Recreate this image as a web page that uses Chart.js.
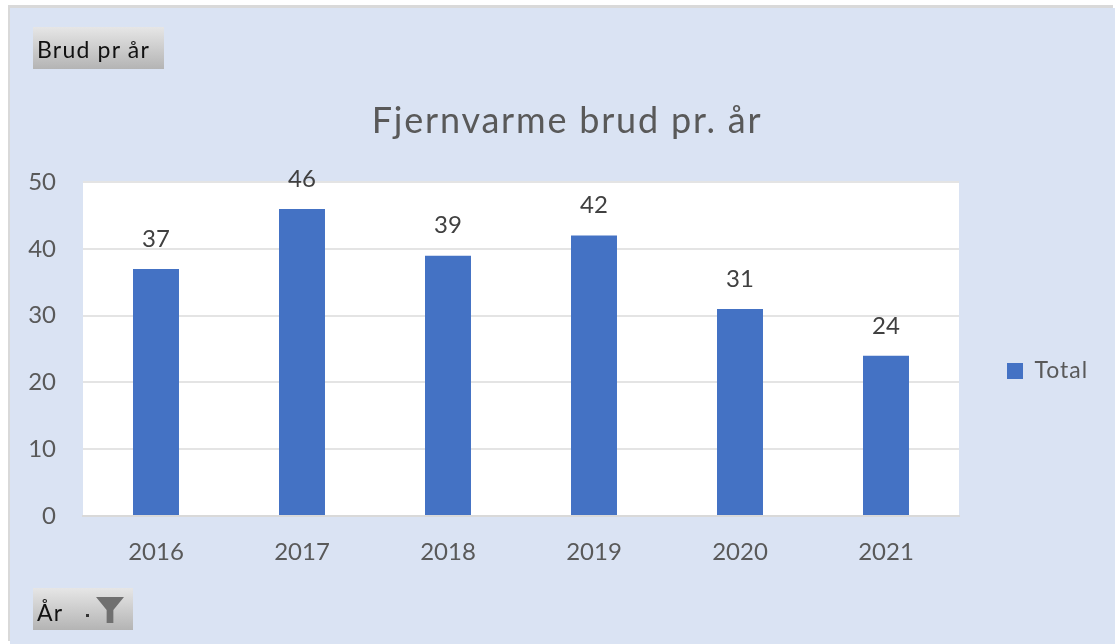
<!DOCTYPE html>
<html><head><meta charset="utf-8">
<style>
html,body{margin:0;padding:0;background:#fff;width:1115px;height:644px;overflow:hidden}
#panel{position:absolute;left:10px;top:8px;width:1105px;height:636px;background:#dae3f3;box-shadow:-2px -3px 0 #d9d9d9}
#c{position:absolute;left:0;top:0;filter:blur(.55px)}
.btn{position:absolute;left:23px;background:linear-gradient(#e6e6e6,#b4b4b4);color:#111;font:23px Lato,sans-serif;letter-spacing:1.2px;filter:blur(.4px);box-sizing:border-box;padding-left:4px}
#b1{top:19px;width:131px;height:42px;line-height:44px}
#b2{top:580px;width:100px;height:42px;line-height:48px}
#f{position:absolute;left:63px;top:9px;width:28px;height:26px;background:#707070;clip-path:polygon(0 0,100% 0,62% 50%,62% 100%,38% 100%,38% 50%)}
#d{position:absolute;left:53px;top:26px;width:3px;height:3px;background:#333}
</style></head><body>
<div id="panel">
<canvas id="c" width="1105" height="636"></canvas>
<div class="btn" id="b1">Brud pr år</div>
<div class="btn" id="b2">År<span id="d"></span><span id="f"></span></div>
</div>
<script src="https://cdn.jsdelivr.net/npm/chart.js@4"></script>
<script>
const categories = ["2016","2017","2018","2019","2020","2021"];
const totals = [37,46,39,42,31,24];
const seriesName = "Total";
const chartTitle = "Fjernvarme brud pr. år";

const fontFamily = "Lato, sans-serif";
const grey = "#595959";

function wrapDraw(box, spacing, dx, dy){
  const orig = box.draw;
  box.draw = function(){
    const ctx = this.ctx;
    ctx.save();
    ctx.letterSpacing = spacing;
    ctx.translate(dx, dy);
    orig.apply(this, arguments);
    ctx.restore();
  };
}

const helperPlugin = {
  id: "helper",
  beforeLayout(chart){
    if (chart.$wrapped) return;
    chart.$wrapped = true;
    const legend = chart.legend, fit = legend.fit;
    legend.fit = function(){ fit.call(this); this.width = 156; };
    wrapDraw(legend, "1px", 0, 45);
    wrapDraw(chart.titleBlock, "1.8px", 0, 0);
  },
  afterDatasetsDraw(chart){
    const ctx = chart.ctx, meta = chart.getDatasetMeta(0);
    ctx.save();
    ctx.font = "24px " + fontFamily;
    ctx.fillStyle = "#404040";
    ctx.textAlign = "center";
    ctx.textBaseline = "middle";
    meta.data.forEach((bar,i)=>{ ctx.fillText(String(totals[i]), bar.x, bar.y - 30); });
    ctx.restore();
  }
};

new Chart(document.getElementById("c"),{
  type:"bar",
  data:{labels:categories,datasets:[{label:seriesName,data:totals,backgroundColor:"#4472c4",
    barPercentage:0.63,categoryPercentage:0.5}]},
  plugins:[helperPlugin,{
    id:"plotBg",
    beforeDraw(chart){
      const a=chart.chartArea,ctx=chart.ctx;
      ctx.save();ctx.fillStyle="#fff";ctx.fillRect(a.left,a.top,a.right-a.left,a.bottom-a.top);ctx.restore();
    }
  }],
  options:{
    responsive:false,animation:false,
    layout:{padding:{left:9,top:0,right:0,bottom:0}},
    plugins:{
      title:{display:true,text:chartTitle,color:grey,font:{family:fontFamily,size:36,weight:"normal"},
        padding:{top:92,bottom:39},align:"center"},
      legend:{position:"right",align:"center",
        labels:{boxWidth:16,boxHeight:16,padding:48,color:grey,font:{family:fontFamily,size:23}}},
      tooltip:{enabled:false}
    },
    scales:{
      x:{grid:{display:false},border:{color:"#d9d9d9",width:2},
        ticks:{color:grey,font:{family:fontFamily,size:24},padding:14,maxRotation:0},
        afterFit(s){s.height=128;}},
      y:{min:0,max:50,border:{display:false},
        grid:{color:"#e4e4e4",lineWidth:2,tickLength:0},
        ticks:{stepSize:10,color:grey,font:{family:fontFamily,size:24},padding:27},
        afterFit(s){s.width=64;}}
    }
  }
});
</script>
</body></html>
